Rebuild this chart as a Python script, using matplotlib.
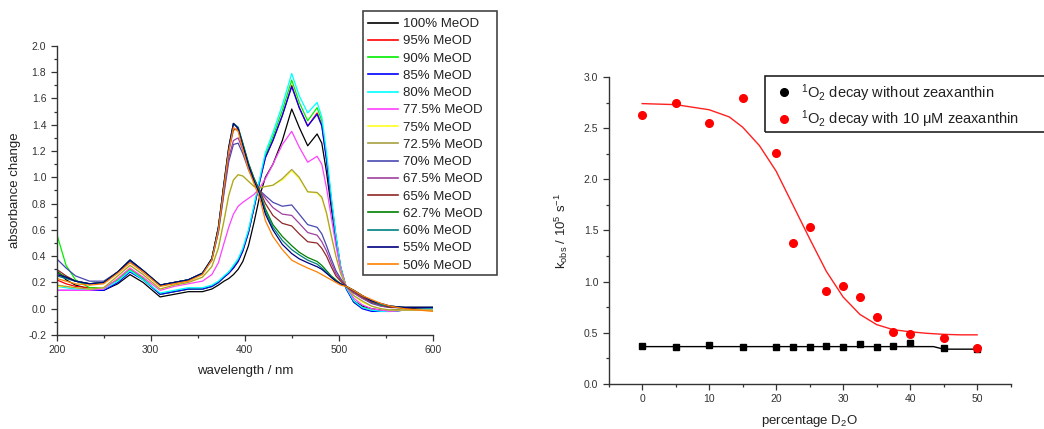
import numpy as np
import matplotlib
matplotlib.use('Agg')
import matplotlib.pyplot as plt
from matplotlib.lines import Line2D
from matplotlib.patches import Rectangle

plt.rcParams['font.family'] = ['Liberation Sans', 'DejaVu Sans']
plt.rcParams['mathtext.fontset'] = 'custom'
plt.rcParams['mathtext.rm'] = 'Liberation Sans'
plt.rcParams['mathtext.it'] = 'Liberation Sans'

# ---- left panel: absorbance spectra ----
wl = [200, 210, 220, 235, 250, 265, 278, 292, 310, 325, 340, 355, 365, 372, 378, 383, 388, 393, 398, 404,
      410, 416, 422, 430, 440, 450, 458, 467, 477, 482, 487, 492, 497, 502, 508, 516, 525, 535, 545, 555, 570, 600]

meod_100 = [0.29, 0.22, 0.18, 0.15, 0.14, 0.19, 0.26, 0.20, 0.09, 0.11, 0.13, 0.13, 0.15, 0.18, 0.21, 0.23, 0.26, 0.30, 0.36, 0.48,
            0.66, 0.86, 1.00, 1.10, 1.28, 1.52, 1.38, 1.24, 1.33, 1.26, 1.04, 0.77, 0.52, 0.31, 0.16, 0.06, 0.02, 0.00, -0.01, -0.01, 0.00, 0.00]
meod_95 = [0.22, 0.19, 0.17, 0.16, 0.16, 0.22, 0.30, 0.23, 0.11, 0.13, 0.15, 0.15, 0.17, 0.20, 0.24, 0.27, 0.31, 0.36, 0.44, 0.58,
           0.77, 0.97, 1.15, 1.28, 1.47, 1.70, 1.53, 1.39, 1.49, 1.40, 1.14, 0.83, 0.55, 0.32, 0.16, 0.05, 0.01, -0.01, -0.02, -0.02, -0.01, 0.00]
meod_90 = [0.57, 0.33, 0.22, 0.16, 0.16, 0.22, 0.30, 0.23, 0.11, 0.13, 0.15, 0.15, 0.17, 0.20, 0.24, 0.28, 0.32, 0.37, 0.45, 0.59,
           0.78, 0.98, 1.17, 1.31, 1.51, 1.74, 1.57, 1.43, 1.53, 1.43, 1.16, 0.84, 0.55, 0.32, 0.16, 0.05, 0.01, -0.01, -0.02, -0.02, -0.01, 0.00]
meod_85 = [0.14, 0.14, 0.14, 0.14, 0.14, 0.20, 0.28, 0.22, 0.11, 0.13, 0.15, 0.15, 0.17, 0.20, 0.24, 0.27, 0.31, 0.36, 0.44, 0.58,
           0.77, 0.97, 1.15, 1.28, 1.47, 1.69, 1.53, 1.39, 1.48, 1.39, 1.13, 0.82, 0.54, 0.31, 0.15, 0.05, 0.00, -0.02, -0.02, -0.02, -0.01, 0.00]
meod_80 = [0.17, 0.16, 0.15, 0.15, 0.15, 0.21, 0.29, 0.22, 0.12, 0.14, 0.16, 0.16, 0.18, 0.21, 0.25, 0.28, 0.33, 0.38, 0.46, 0.60,
           0.79, 0.99, 1.19, 1.34, 1.55, 1.79, 1.62, 1.49, 1.57, 1.46, 1.19, 0.86, 0.56, 0.32, 0.16, 0.06, 0.01, -0.01, -0.02, -0.02, -0.01, 0.00]
meod_775 = [0.14, 0.14, 0.14, 0.14, 0.15, 0.23, 0.31, 0.24, 0.14, 0.17, 0.19, 0.21, 0.26, 0.35, 0.50, 0.62, 0.72, 0.78, 0.81, 0.84,
            0.87, 0.92, 0.99, 1.10, 1.25, 1.35, 1.23, 1.115, 1.16, 1.10, 0.92, 0.70, 0.48, 0.30, 0.17, 0.08, 0.03, 0.00, -0.01, -0.02, -0.01, -0.01]
meod_75 = [0.17, 0.17, 0.16, 0.15, 0.16, 0.25, 0.33, 0.26, 0.15, 0.18, 0.20, 0.24, 0.32, 0.47, 0.68, 0.87, 0.98, 1.02, 1.01, 0.97,
           0.93, 0.92, 0.93, 0.94, 0.98, 1.05, 0.99, 0.89, 0.88, 0.84, 0.72, 0.55, 0.40, 0.27, 0.17, 0.10, 0.05, 0.02, 0.00, -0.01, -0.01, -0.01]
meod_725 = [0.18, 0.17, 0.16, 0.15, 0.16, 0.25, 0.33, 0.26, 0.15, 0.18, 0.20, 0.24, 0.32, 0.46, 0.67, 0.86, 0.98, 1.02, 1.01, 0.97,
            0.93, 0.92, 0.93, 0.94, 0.99, 1.06, 1.00, 0.89, 0.885, 0.85, 0.73, 0.56, 0.40, 0.27, 0.17, 0.10, 0.06, 0.02, 0.00, -0.01, -0.01, -0.01]
meod_70 = [0.38, 0.31, 0.25, 0.21, 0.21, 0.28, 0.36, 0.28, 0.18, 0.20, 0.22, 0.27, 0.37, 0.58, 0.88, 1.12, 1.25, 1.26, 1.18, 1.06,
           0.97, 0.90, 0.86, 0.81, 0.78, 0.79, 0.72, 0.64, 0.62, 0.57, 0.48, 0.38, 0.29, 0.23, 0.17, 0.12, 0.08, 0.04, 0.02, 0.01, 0.01, 0.01]
meod_675 = [0.27, 0.24, 0.21, 0.19, 0.20, 0.28, 0.36, 0.28, 0.18, 0.20, 0.22, 0.27, 0.37, 0.59, 0.90, 1.15, 1.28, 1.30, 1.21, 1.08,
            0.98, 0.90, 0.84, 0.77, 0.72, 0.71, 0.65, 0.58, 0.56, 0.51, 0.44, 0.35, 0.27, 0.22, 0.17, 0.12, 0.08, 0.05, 0.02, 0.01, 0.01, 0.01]
meod_65 = [0.30, 0.25, 0.21, 0.19, 0.20, 0.28, 0.37, 0.29, 0.18, 0.20, 0.22, 0.27, 0.38, 0.61, 0.93, 1.20, 1.36, 1.37, 1.25, 1.10,
           0.99, 0.90, 0.80, 0.71, 0.65, 0.63, 0.57, 0.51, 0.50, 0.46, 0.40, 0.32, 0.25, 0.21, 0.17, 0.13, 0.09, 0.05, 0.03, 0.01, 0.01, 0.01]
meod_627 = [0.28, 0.24, 0.21, 0.19, 0.20, 0.28, 0.37, 0.29, 0.18, 0.20, 0.22, 0.27, 0.38, 0.62, 0.95, 1.22, 1.41, 1.38, 1.26, 1.11,
            0.99, 0.89, 0.76, 0.64, 0.55, 0.48, 0.43, 0.39, 0.36, 0.33, 0.29, 0.25, 0.22, 0.19, 0.17, 0.14, 0.10, 0.06, 0.03, 0.02, 0.01, 0.01]
meod_60 = [0.25, 0.23, 0.21, 0.19, 0.20, 0.28, 0.37, 0.29, 0.18, 0.20, 0.22, 0.27, 0.38, 0.62, 0.95, 1.22, 1.41, 1.38, 1.25, 1.10,
           0.98, 0.88, 0.74, 0.62, 0.52, 0.45, 0.41, 0.37, 0.34, 0.31, 0.28, 0.24, 0.21, 0.19, 0.17, 0.14, 0.10, 0.06, 0.03, 0.02, 0.01, 0.01]
meod_55 = [0.26, 0.24, 0.21, 0.19, 0.20, 0.28, 0.37, 0.29, 0.18, 0.20, 0.22, 0.27, 0.38, 0.62, 0.96, 1.23, 1.41, 1.37, 1.24, 1.09,
           0.97, 0.87, 0.72, 0.60, 0.49, 0.42, 0.38, 0.35, 0.32, 0.30, 0.27, 0.24, 0.21, 0.19, 0.17, 0.14, 0.10, 0.06, 0.04, 0.02, 0.01, 0.01]
meod_50 = [0.23, 0.21, 0.19, 0.18, 0.19, 0.27, 0.35, 0.28, 0.17, 0.19, 0.21, 0.26, 0.37, 0.60, 0.93, 1.20, 1.38, 1.35, 1.21, 1.06,
           0.95, 0.84, 0.67, 0.55, 0.45, 0.37, 0.34, 0.31, 0.28, 0.26, 0.24, 0.22, 0.20, 0.18, 0.17, 0.14, 0.10, 0.07, 0.04, 0.02, 0.00, -0.02]

spectra = [meod_100, meod_95, meod_90, meod_85, meod_80, meod_775, meod_75, meod_725,
           meod_70, meod_675, meod_65, meod_627, meod_60, meod_55, meod_50]
spec_labels = ['100% MeOD', '95% MeOD', '90% MeOD', '85% MeOD', '80% MeOD', '77.5% MeOD', '75% MeOD',
               '72.5% MeOD', '70% MeOD', '67.5% MeOD', '65% MeOD', '62.7% MeOD', '60% MeOD', '55% MeOD', '50% MeOD']
spec_colors = ['#000000', '#ff0000', '#00ee00', '#0000ff', '#00ffff', '#ff40ff', '#ffff20', '#a8a040',
               '#4848b0', '#a040a0', '#902828', '#008000', '#008080', '#000080', '#ff8000']

# ---- right panel: singlet oxygen decay rates ----
d2o = [0, 5, 10, 15, 20, 22.5, 25, 27.5, 30, 32.5, 35, 37.5, 40, 45, 50]
k_without = [0.37, 0.36, 0.38, 0.36, 0.36, 0.36, 0.36, 0.37, 0.36, 0.39, 0.36, 0.37, 0.40, 0.35, 0.34]
k_with = [2.63, 2.75, 2.55, 2.79, 2.26, 1.38, 1.53, 0.91, 0.96, 0.85, 0.65, 0.51, 0.49, 0.45, 0.35]

fit_x = [0, 5, 10, 13, 15, 17.5, 20, 22.5, 25, 27.5, 30, 32.5, 35, 37.5, 40, 42.5, 45, 47.5, 50]
fit_with = [2.74, 2.73, 2.68, 2.61, 2.51, 2.33, 2.08, 1.75, 1.42, 1.10, 0.85, 0.68, 0.58, 0.53, 0.51, 0.495, 0.485, 0.48, 0.48]
fit_x_without = [0, 43.5, 45, 50]
fit_without = [0.365, 0.365, 0.34, 0.34]

tick_col = '#333333'
fig = plt.figure(figsize=(10.44, 4.29), dpi=100)

ax1 = fig.add_axes([0.0543, 0.219, 0.3602, 0.674])
for vals, lab, col in zip(spectra, spec_labels, spec_colors):
    ax1.plot(wl, vals, color=col, lw=0.9, label=lab)
ax1.set_xlim(200, 600)
ax1.set_ylim(-0.2, 2.0)
ax1.set_xticks([200, 300, 400, 500, 600])
ax1.set_xticks([250, 350, 450, 550], minor=True)
ax1.set_yticks(np.arange(-0.2, 2.01, 0.2))
ax1.set_yticks(np.arange(-0.1, 2.0, 0.2), minor=True)
ax1.set_yticklabels(['%.1f' % v for v in np.arange(-0.2, 2.01, 0.2)])
ax1.set_xlabel('wavelength / nm', fontsize=9.5, color='#222222', labelpad=7)
ax1.set_ylabel('absorbance change', fontsize=9.5, color='#222222', labelpad=5)

ax2 = fig.add_axes([0.583, 0.105, 0.385, 0.7155])
ax2.plot(fit_x_without, fit_without, color='black', lw=1.0)
ax2.plot(fit_x, fit_with, color='#ff2020', lw=1.0)
ax2.plot(d2o, k_without, 's', color='black', ms=5)
ax2.plot(d2o, k_with, 'o', color='#ff0000', ms=5.5, mec='#ff0000')
ax2.set_xlim(-5, 55)
ax2.set_ylim(0, 3.0)
ax2.set_xticks([0, 10, 20, 30, 40, 50])
ax2.set_xticks([-5, 5, 15, 25, 35, 45, 55], minor=True)
ax2.set_yticks(np.arange(0, 3.01, 0.5))
ax2.set_yticks(np.arange(0.25, 3.0, 0.5), minor=True)
ax2.set_xlabel('percentage D$_2$O', fontsize=9.5, color='#222222', labelpad=6.5)
ax2.set_ylabel('k$_{obs}$ / 10$^5$ s$^{-1}$', fontsize=9.5, color='#222222', labelpad=10)

for ax in (ax1, ax2):
    ax.spines['top'].set_visible(False)
    ax.spines['right'].set_visible(False)
    for s in ('left', 'bottom'):
        ax.spines[s].set_linewidth(1.0)
        ax.spines[s].set_color('#333333')
    ax.tick_params(which='major', direction='out', length=4, width=0.9, color='#333333',
                   labelsize=7.5, labelcolor=tick_col)
    ax.tick_params(which='minor', direction='out', length=2.5, width=0.9, color='#333333')
    ax.patch.set_alpha(0)

# left legend with plain square frame
handles1 = [Line2D([], [], color=c, lw=1.2) for c in spec_colors]
leg1 = fig.legend(handles1, spec_labels, loc='upper left', bbox_to_anchor=(364 / 1044, 1 - 14 / 429),
                  frameon=False, fontsize=9.5, handlelength=2.3, handletextpad=0.35,
                  labelspacing=0.38, borderpad=0.3, borderaxespad=0)
for t in leg1.get_texts():
    t.set_color('#222222')
fig.patches.append(Rectangle((363 / 1044, 1 - 275 / 429), 134 / 1044, 264 / 429, transform=fig.transFigure,
                             fill=False, ec='#444444', lw=1.2))

# right legend, frame runs past the figure edge
handles2 = [Line2D([], [], ls='', marker='o', color='black', ms=5.5),
            Line2D([], [], ls='', marker='o', color='#ff0000', ms=5.5)]
labels2 = ['$^1$O$_2$ decay without zeaxanthin', '$^1$O$_2$ decay with 10 \u03bcM zeaxanthin']
leg2 = fig.legend(handles2, labels2, loc='upper left', bbox_to_anchor=(772 / 1044, 1 - 79 / 429),
                  frameon=False, fontsize=10.5, handlelength=1.2, handletextpad=0.6,
                  labelspacing=0.35, borderpad=0.2, borderaxespad=0)
for t in leg2.get_texts():
    t.set_color('#222222')
fig.patches.append(Rectangle((765 / 1044, 1 - 132 / 429), 300 / 1044, 56 / 429, transform=fig.transFigure,
                             fill=False, ec='#222222', lw=1.2))

fig.savefig('out.png', dpi=100)
